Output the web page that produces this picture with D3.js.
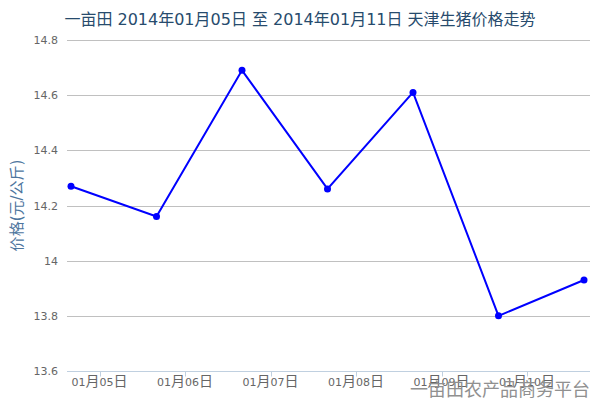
<!DOCTYPE html>
<html>
<head>
<meta charset="utf-8">
<script src="https://cdn.jsdelivr.net/npm/d3@7"></script>
<style>
  body { margin: 0; background: #fff; }
  svg { font-family: "DejaVu Sans", "Noto Sans CJK SC", sans-serif; }
</style>
</head>
<body>
<svg id="chart" width="600" height="400"></svg>
<script>
const dates = ['2014-01-05', '2014-01-06', '2014-01-07', '2014-01-08', '2014-01-09', '2014-01-10', '2014-01-11'];
const prices = [14.27, 14.16, 14.69, 14.26, 14.61, 13.80, 13.93];
// axis ticks fall at 08:00 (UTC+8 offset in the original)
const tickTimes = ['2014-01-05T08:00', '2014-01-06T08:00', '2014-01-07T08:00', '2014-01-08T08:00', '2014-01-09T08:00', '2014-01-10T08:00'];
const tickLabels = ['01月05日', '01月06日', '01月07日', '01月08日', '01月09日', '01月10日'];
const yTicks = [13.6, 13.8, 14, 14.2, 14.4, 14.6, 14.8];

const margin = { top: 40, right: 10, bottom: 29, left: 67 };
const width = 600, height = 400;

const parse = d3.timeParse('%Y-%m-%d');
const parseT = d3.timeParse('%Y-%m-%dT%H:%M');

const svg = d3.select('#chart');

const x = d3.scaleTime()
  .domain([parse(dates[0]), parse(dates[dates.length - 1])])
  .range([71, 584]);

const y = d3.scaleLinear()
  .domain([13.6, 14.8])
  .range([height - margin.bottom, margin.top]);

// grid
svg.append('g')
  .selectAll('line')
  .data(yTicks.slice(1))
  .enter()
  .append('line')
  .attr('x1', margin.left)
  .attr('x2', width - margin.right)
  .attr('y1', d => Math.round(y(d)) + 0.5)
  .attr('y2', d => Math.round(y(d)) + 0.5)
  .attr('stroke', '#C0C0C0')
  .attr('stroke-width', 1);

// y labels
svg.append('g')
  .selectAll('text')
  .data(yTicks)
  .enter()
  .append('text')
  .attr('x', 58)
  .attr('y', d => y(d) + 4)
  .attr('text-anchor', 'end')
  .attr('font-size', 11)
  .attr('fill', '#666')
  .text(d => d);

// x axis
const xAxis = svg.append('g')
  .attr('transform', `translate(0,${Math.round(y(13.6)) + 0.5})`);
xAxis.append('line')
  .attr('x1', margin.left)
  .attr('x2', width - margin.right)
  .attr('stroke', '#C0D0E0');
xAxis.selectAll('.tick')
  .data(tickTimes)
  .enter()
  .append('line')
  .attr('x1', d => Math.round(x(parseT(d))) + 0.5)
  .attr('x2', d => Math.round(x(parseT(d))) + 0.5)
  .attr('y1', 0)
  .attr('y2', 5)
  .attr('stroke', '#C0D0E0');

const labs = xAxis.selectAll('text')
  .data(tickTimes)
  .enter()
  .append('text')
  .attr('x', d => x(parseT(d)))
  .attr('y', 14)
  .attr('text-anchor', 'middle')
  .attr('fill', '#666');
labs.each(function (d, i) {
  const parts = tickLabels[i].match(/(\d+|\D+)/g);
  const t = d3.select(this);
  parts.forEach(p => {
    t.append('tspan')
      .attr('font-size', /\d/.test(p) ? 11 : 14)
      .text(p);
  });
});

// y title
svg.append('text')
  .attr('transform', `translate(22,${(margin.top + height - margin.bottom) / 2}) rotate(-90)`)
  .attr('text-anchor', 'middle')
  .attr('font-size', 15)
  .attr('fill', '#4d759e')
  .text('价格(元/公斤)');

// title
svg.append('text')
  .attr('x', 300)
  .attr('y', 25)
  .attr('text-anchor', 'middle')
  .attr('font-size', 16)
  .attr('fill', '#274b6d')
  .text('一亩田 2014年01月05日 至 2014年01月11日 天津生猪价格走势');

// line
const line = d3.line()
  .x((d, i) => x(parse(dates[i])))
  .y(d => y(d));

svg.append('path')
  .datum(prices)
  .attr('d', line)
  .attr('fill', 'none')
  .attr('stroke', '#0000FF')
  .attr('stroke-width', 2);

svg.selectAll('.dot')
  .data(prices)
  .enter()
  .append('circle')
  .attr('cx', (d, i) => x(parse(dates[i])))
  .attr('cy', d => y(d))
  .attr('r', 3.5)
  .attr('fill', '#0000FF');

// credit
svg.append('text')
  .attr('x', 590)
  .attr('y', 396)
  .attr('text-anchor', 'end')
  .attr('font-size', 18)
  .attr('fill', '#909090')
  .text('一亩田农产品商务平台');
</script>
</body>
</html>
